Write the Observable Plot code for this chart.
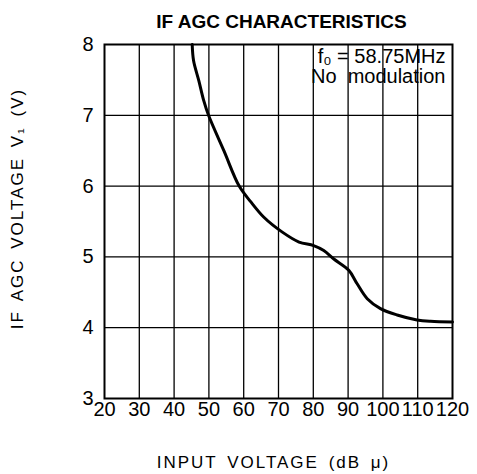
<!DOCTYPE html>
<html><head><meta charset="utf-8">
<script src="https://cdn.jsdelivr.net/npm/d3@7"></script>
<script src="https://cdn.jsdelivr.net/npm/@observablehq/plot@0.6"></script>
<style>
body{margin:0;background:#fff}
.axlab text{letter-spacing:2px;word-spacing:3px}
</style>
</head><body><div id="chart"></div>
<script>
// Data
const inputDb = [45.2, 45.6, 47.1, 48.5, 49.9, 54.3, 58.7, 62.0, 65.8, 71.1, 75.9, 80.1, 83.0, 85.9, 90.2, 92.6, 95.5, 99.3, 104.1, 109.8, 113.7, 120];
const agcVoltage = [8.0, 7.77, 7.49, 7.21, 7.0, 6.5, 6.0, 5.78, 5.56, 5.35, 5.21, 5.16, 5.09, 4.97, 4.81, 4.62, 4.41, 4.27, 4.18, 4.11, 4.09, 4.08];
const xTicks = [20, 30, 40, 50, 60, 70, 80, 90, 100, 110, 120];
const yTicks = [3, 4, 5, 6, 7, 8];
const xGrid = [30, 40, 50, 60, 70, 80, 90, 100, 110];
const yGrid = [4, 5, 6, 7];
const titleText = "IF AGC CHARACTERISTICS";
const xLabel = "INPUT VOLTAGE (dB μ)";
const yLabel = "IF AGC VOLTAGE V₁ (V)";
const noteText = "f₀ = 58.75MHz\nNo  modulation";

const data = inputDb.map((x, i) => ({x, y: agcVoltage[i]}));
const font = "Liberation Sans, Arial, Helvetica, sans-serif";

const chart = Plot.plot({
  width: 477, height: 474,
  marginLeft: 104, marginRight: 25, marginTop: 44, marginBottom: 76,
  style: {fontFamily: font, fontSize: "20px", color: "#000", background: "#fff"},
  x: {domain: [20, 120]},
  y: {domain: [3, 8]},
  marks: [
    Plot.ruleX(xGrid, {stroke: "#000", strokeWidth: 1.3, strokeOpacity: 1}),
    Plot.ruleY(yGrid, {stroke: "#000", strokeWidth: 1.3, strokeOpacity: 1}),
    Plot.frame({stroke: "#000", strokeWidth: 2}),
    Plot.axisX({ticks: xTicks, tickSize: 0, tickPadding: 3, label: null, fontSize: 20, tickFormat: "d"}),
    Plot.axisY({ticks: yTicks, tickSize: 0, tickPadding: 11, label: null, fontSize: 20, tickFormat: "d"}),
    Plot.line(data, {x: "x", y: "y", stroke: "#000", strokeWidth: 3, curve: "catmull-rom"}),
    Plot.text([noteText], {frameAnchor: "top-right", textAnchor: "end", lineAnchor: "top", dx: -7, dy: 4, fontSize: 20, lineHeight: 1.0}),
    Plot.text([titleText], {frameAnchor: "top", textAnchor: "middle", lineAnchor: "middle", dx: 3, dy: -23, fontSize: 19, fontWeight: "bold"}),
    Plot.text([xLabel], {frameAnchor: "bottom", textAnchor: "middle", lineAnchor: "middle", dx: -5, dy: 64, fontSize: 17, className: "axlab"}),
    Plot.text([yLabel], {frameAnchor: "left", textAnchor: "middle", lineAnchor: "middle", rotate: -90, dx: -87, dy: -13, fontSize: 17, className: "axlab"})
  ]
});
document.getElementById("chart").append(chart);
</script>
</body></html>
